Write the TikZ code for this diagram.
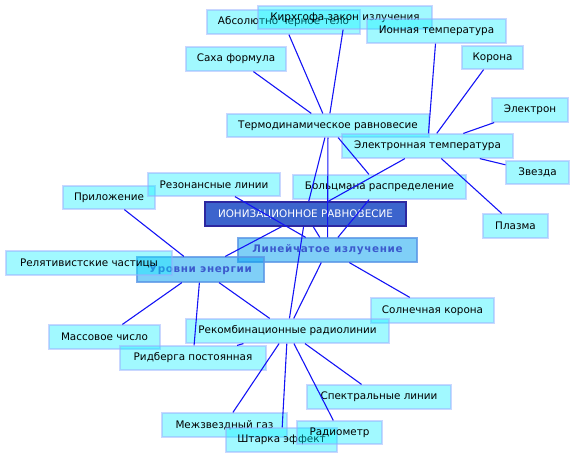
\documentclass[tikz,border=0pt]{standalone}
\usepackage{fontspec}
\setmainfont{DejaVu Sans}
\newfontfamily\hubfont[LetterSpace=6]{DejaVu Sans}
\definecolor{boxfill}{RGB}{0,240,255}
\definecolor{boxdraw}{RGB}{150,175,255}
\definecolor{hubfill}{RGB}{0,160,240}
\definecolor{hubdraw}{RGB}{90,150,230}
\definecolor{hubtext}{RGB}{60,90,205}
\definecolor{ionfill}{RGB}{60,100,205}
\definecolor{iondraw}{RGB}{45,40,160}
\definecolor{edgecol}{RGB}{20,20,245}
\tikzset{
  base/.style={rectangle, inner sep=0pt, text opacity=1, font=\fontsize{10.4}{12}\selectfont},
  box/.style={base, fill=boxfill, fill opacity=0.37, draw=boxdraw, draw opacity=0.5, line width=1.2pt, text=black},
  hub/.style={base, fill=hubfill, fill opacity=0.5, draw=hubdraw, draw opacity=0.8, line width=1.2pt, text=hubtext, font=\fontsize{10.4}{12}\hubfont\bfseries},
  ionbox/.style={base, fill=ionfill, draw=iondraw, line width=1.2pt, text=white},
  edge/.style={draw=edgecol, line width=1.1pt},
}
\begin{document}
\begin{tikzpicture}[x=1pt,y=-1pt]
\useasboundingbox (0,0) rectangle (576,459);
% nodes
\node[box, minimum width=153pt, minimum height=24pt] (abs) at (283.5,22) {Абсолютно черное тело};
\node[box, minimum width=174pt, minimum height=23pt] (kir) at (345,17.5) {Кирхгофа закон излучения};
\node[box, minimum width=139pt, minimum height=24pt] (iont) at (436.5,31) {Ионная температура};
\node[box, minimum width=61pt, minimum height=23pt] (kor) at (492.5,57.5) {Корона};
\node[box, minimum width=100pt, minimum height=24pt] (saha) at (236,59) {Саха формула};
\node[box, minimum width=76pt, minimum height=24pt] (elek) at (530,110) {Электрон};
\node[box, minimum width=202pt, minimum height=23pt] (tr) at (328,125.5) {Термодинамическое равновесие};
\node[box, minimum width=171pt, minimum height=24pt] (et) at (427.5,146) {Электронная температура};
\node[box, minimum width=63pt, minimum height=23pt] (zv) at (537.5,172.5) {Звезда};
\node[box, minimum width=92pt, minimum height=23pt] (pril) at (109,197.5) {Приложение};
\node[box, minimum width=132pt, minimum height=23pt] (rez) at (214,184.5) {Резонансные линии};
\node[box, minimum width=173pt, minimum height=24pt] (bol) at (379.5,187) {Больцмана распределение};
\node[ionbox, minimum width=201pt, minimum height=24pt] (ion) at (305.5,214) {ИОНИЗАЦИОННОЕ РАВНОВЕСИЕ};
\node[box, minimum width=65pt, minimum height=24pt] (pl) at (515.5,226) {Плазма};
\node[hub, minimum width=179pt, minimum height=24pt] (li) at (327.5,250) {Линейчатое излучение};
\node[hub, minimum width=127pt, minimum height=25pt] (ue) at (200.5,269.5) {Уровни энергии};
\node[box, minimum width=166pt, minimum height=24pt] (rel) at (89,263) {Релятивистские частицы};
\node[box, minimum width=123pt, minimum height=25pt] (sk) at (432.5,310.5) {Солнечная корона};
\node[box, minimum width=111pt, minimum height=24pt] (mass) at (104.5,337) {Массовое число};
\node[box, minimum width=203pt, minimum height=24pt] (rr) at (287.5,331) {Рекомбинационные радиолинии};
\node[box, minimum width=146pt, minimum height=24pt] (rid) at (193,358) {Ридберга постоянная};
\node[box, minimum width=144pt, minimum height=24pt] (sp) at (379,397) {Спектральные линии};
\node[box, minimum width=125pt, minimum height=24pt] (mz) at (224.5,425) {Межзвездный газ};
\node[box, minimum width=111pt, minimum height=24pt] (sh) at (281.5,440) {Штарка эффект};
\node[box, minimum width=85pt, minimum height=23pt] (rad) at (339.5,432.5) {Радиометр};
% edges
\draw[edge] (saha) -- (tr);
\draw[edge] (abs) -- (tr);
\draw[edge] (kir) -- (tr);
\draw[edge] (iont) -- (et);
\draw[edge] (kor) -- (et);
\draw[edge] (elek) -- (et);
\draw[edge] (zv) -- (et);
\draw[edge] (pl) -- (et);
\draw[edge] (et) -- (ion);
\draw[edge] (tr) -- (bol);
\draw[edge] (tr) -- (ion);
\draw[edge] (tr) -- (li);
\draw[edge] (bol) -- (li);
\draw[edge] (rez) -- (li);
\draw[edge] (ion) -- (li);
\draw[edge] (ion) -- (ue);
\draw[edge] (pril) -- (ue);
\draw[edge] (ue) -- (mass);
\draw[edge] (ue) -- (rid);
\draw[edge] (ue) -- (rr);
\draw[edge] (rid) -- (rr);
\draw[edge] (rr) -- (ion);
\draw[edge] (rr) -- (li);
\draw[edge] (li) -- (sk);
\draw[edge] (rr) -- (sp);
\draw[edge] (rr) -- (rad);
\draw[edge] (rr) -- (sh);
\draw[edge] (rr) -- (mz);
\end{tikzpicture}
\end{document}
